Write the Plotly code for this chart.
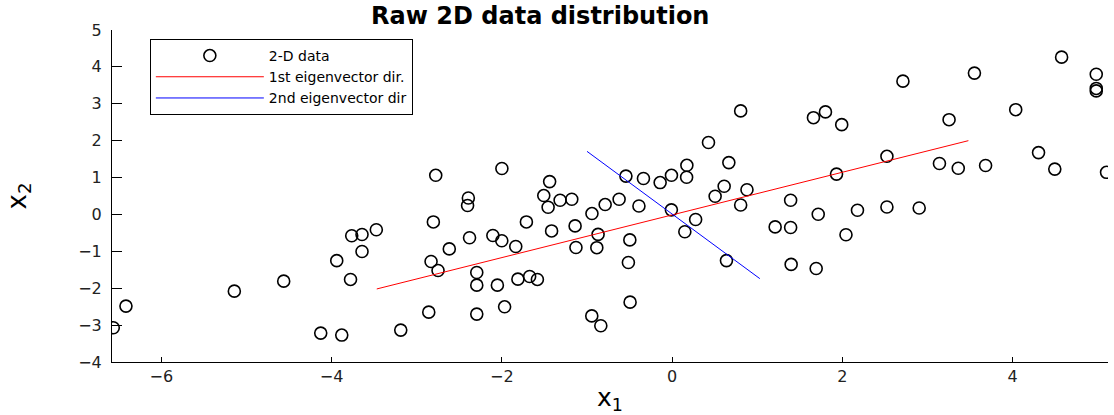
import plotly.graph_objects as go

# data points (x1, x2)
x1 = [-6.565, -6.416, -5.143, -4.563, -4.128, -3.881, -3.940, -3.778, -3.764, -3.643,
      -3.475, -3.643, -3.188, -2.859, -2.832, -2.777, -2.805, -2.750, -2.618, -2.394,
      -2.403, -2.380, -2.295, -2.295, -2.295, -2.106, -2.053, -2.000, -2.001, -1.968,
      -1.837, -1.812, -1.712, -1.674, -1.583, -1.439, -1.508, -1.457, -1.416, -1.316,
      -1.179, -1.140, -1.130, -0.944, -0.870, -0.942, -0.885, -0.838, -0.787, -0.623,
      -0.494, -0.514, -0.497, -0.543, -0.390, -0.337, -0.141, -0.008, 0.170, 0.173,
      -0.009, 0.149, 0.276, 0.427, 0.666, 0.805, 0.611, 0.879, 0.505, 0.805,
      0.638, 1.392, 1.210, 1.392, 1.716, 1.398, 1.692, 1.801, 1.660, 1.992,
      1.931, 2.042, 2.177, 2.523, 2.523, 2.902, 2.711, 3.253, 3.140, 3.361,
      3.682, 3.551, 4.036, 4.304, 4.495, 4.575, 4.982, 4.982, 4.982, 5.103]
x2 = [-3.073, -2.485, -2.079, -1.808, -3.216, -3.270, -1.253, -1.762, -0.577, -0.544,
      -0.414, -1.004, -3.135, -2.648, -1.275, 1.061, -0.203, -1.519, -0.934, 0.447,
      0.241, -0.631, -1.573, -1.917, -2.702, -0.571, -1.917, 1.245, -0.712, -2.504,
      -0.869, -1.754, -0.203, -1.681, -1.762, 0.891, 0.512, 0.195, -0.447, 0.384,
      0.411, -0.311, -0.896, -2.750, -0.541, 0.024, -0.901, -3.018, 0.268, 0.411,
      -2.377, -1.302, -0.690, 1.040, 0.230, 0.975, 0.864, 1.061, 1.007, 1.332,
      0.125, -0.468, -0.138, 1.949, 1.405, 2.807, 0.763, 0.669, 0.493, 0.257,
      -1.251, 0.384, -0.338, -0.355, 0.005, -1.354, -1.465, 2.780, 2.623, 2.434,
      1.094, -0.550, 0.114, 1.576, 0.203, 0.176, 3.614, 2.569, 1.381, 1.251,
      1.326, 3.831, 2.840, 1.676, 1.229, 4.264, 3.801, 3.416, 3.349, 1.142]

# eigenvector direction segments
ev1_x = [-3.47, 3.48]
ev1_y = [-2.02, 2.00]
ev2_x = [-1.00, 1.03]
ev2_y = [1.71, -1.74]

x_ticks = [-6, -4, -2, 0, 2, 4]
y_ticks = [-4, -3, -2, -1, 0, 1, 2, 3, 4, 5]

FONT = "DejaVu Sans, Arial, sans-serif"

fig = go.Figure()
fig.add_trace(go.Scatter(
    x=x1, y=x2, mode="markers", name="2-D data",
    marker=dict(symbol="circle-open", size=12, color="black", line=dict(width=1.6, color="black")),
))
fig.add_trace(go.Scatter(
    x=ev1_x, y=ev1_y, mode="lines", name="1st eigenvector dir.",
    line=dict(color="#ff0000", width=1),
))
fig.add_trace(go.Scatter(
    x=ev2_x, y=ev2_y, mode="lines", name="2nd eigenvector dir",
    line=dict(color="#0000ff", width=1),
))

fig.update_layout(
    width=1114, height=415,
    margin=dict(l=112, r=6, t=30, b=53),
    paper_bgcolor="white", plot_bgcolor="white",
    font=dict(family=FONT, color="black", size=15),
    title=dict(text="<b>Raw 2D data distribution</b>", x=0.485, xanchor="center",
               y=0.963, yanchor="middle", yref="container",
               font=dict(size=24, family=FONT, color="black")),
    showlegend=True,
    legend=dict(x=0.038, y=0.973, xanchor="left", yanchor="top",
                bgcolor="white", bordercolor="black", borderwidth=1,
                font=dict(size=14, family=FONT), itemwidth=108,
                tracegroupgap=0),
    xaxis=dict(range=[-6.58, 5.12], tickvals=x_ticks, ticks="inside", ticklen=5,
               tickcolor="black", showline=True, linecolor="black", linewidth=1,
               showgrid=False, zeroline=False, mirror=False,
               tickfont=dict(size=16, family=FONT, color="#222"),
               title=dict(text="x<sub>1</sub>", font=dict(size=25, family=FONT), standoff=4)),
    yaxis=dict(range=[-4, 5], tickvals=y_ticks, ticks="inside", ticklen=10,
               tickcolor="black", showline=True, linecolor="black", linewidth=1,
               showgrid=False, zeroline=False, mirror=False,
               tickfont=dict(size=16, family=FONT, color="#222"),
               ticklabelstandoff=6,
               title=dict(text="x<sub>2</sub>", font=dict(size=26, family=FONT), standoff=44)),
)

fig.write_html("out.html", config={"displayModeBar": False},
               post_script="document.body.style.margin='0px';")
